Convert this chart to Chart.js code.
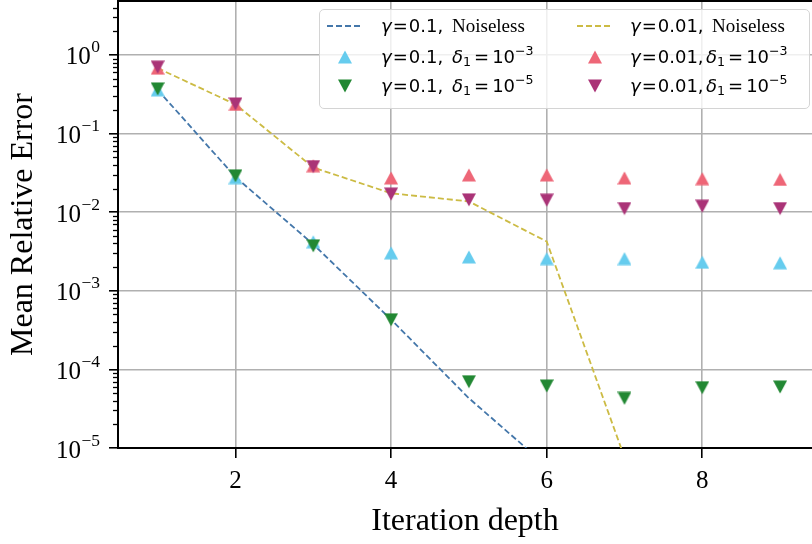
<!DOCTYPE html>
<html>
<head>
<meta charset="utf-8">
<script src="https://cdn.jsdelivr.net/npm/chart.js@4.4.1/dist/chart.umd.min.js"></script>
<style>
  body { margin: 0; background: #fff; overflow: hidden; }
  #wrap { position: relative; width: 812px; height: 544px; }
  #legend-box { position: absolute; left: 319px; top: 9px; width: 491px; height: 100px; box-sizing: border-box;
    border: 1.5px solid #d4d4d4; border-radius: 5px; background: rgba(255,255,255,0.8); }
  .hnd { position: absolute; width: 36px; height: 24px; display: flex; align-items: center; justify-content: center; }
  .part { position: absolute; height: 24px; line-height: 24px; white-space: nowrap; color: #000; }
  .m { font-family: "DejaVu Sans"; font-size: 18px; }
  .m i { font-style: italic; }
  .eq { margin: 0 1px; }
  .eq2 { margin: 0 3px; }
  .s { font-family: "Liberation Serif"; font-size: 19px; }
  sub, sup { font-size: 0.7em; line-height: 0; }
  sub { vertical-align: -0.25em; }
  sup { vertical-align: 0.6em; }
</style>
</head>
<body>
<div id="wrap">
  <canvas id="error-chart" width="812" height="544"></canvas>
  <div id="legend-box"></div>
</div>
<script>
// iteration depth on the x axis
const depth = [1, 2, 3, 4, 5, 6, 7, 8, 9];

// noiseless curves (dashed lines)
const g01Noiseless  = [0.36, 0.028, 0.0039, 0.00043, 0.000043, 0.0000059, null, null, null];
const g001Noiseless = [0.68, 0.235, 0.037, 0.0174, 0.0137, 0.00424, 0.0000076, null, null];

// noisy runs (markers)
const g01D3  = [0.36, 0.0275, 0.0042, 0.00304, 0.0027, 0.00257, 0.00257, 0.00231, 0.00227];
const g01D5  = [0.37, 0.029, 0.00373, 0.000428, 0.0000697, 0.0000614, 0.0000428, 0.0000585, 0.0000596];
const g001D3 = [0.68, 0.235, 0.039, 0.0273, 0.0298, 0.0298, 0.0273, 0.0267, 0.0261];
const g001D5 = [0.70, 0.238, 0.038, 0.017, 0.01435, 0.0142, 0.0111, 0.0119, 0.0111];

const xTicks = [2, 4, 6, 8];
const yTickExps = [-5, -4, -3, -2, -1, 0];

// legend text, split in the gamma part and the rest
const gammaLabels = ['0.1', '0.1', '0.1', '0.01', '0.01', '0.01'];
const restLabels = [
  '<span class="s">Noiseless</span>',
  '<span class="m"><i>δ</i><sub>1</sub><span class="eq2">=</span>10<sup>−3</sup></span>',
  '<span class="m"><i>δ</i><sub>1</sub><span class="eq2">=</span>10<sup>−5</sup></span>',
  '<span class="s">Noiseless</span>',
  '<span class="m"><i>δ</i><sub>1</sub><span class="eq2">=</span>10<sup>−3</sup></span>',
  '<span class="m"><i>δ</i><sub>1</sub><span class="eq2">=</span>10<sup>−5</sup></span>'
];

const colors = {
  blue: '#4477AA', yellow: '#CCBB44', cyan: '#66CCEE',
  green: '#228833', pink: '#EE6677', purple: '#AA3377'
};

const pts = arr => depth.map((x, i) => ({ x: x, y: arr[i] })).filter(p => p.y !== null);

// matplotlib style triangles (as wide as tall)
const tri = (color, down) => {
  const c = document.createElement('canvas');
  c.width = 14; c.height = 14;
  const g = c.getContext('2d');
  g.fillStyle = color;
  g.beginPath();
  if (down) { g.moveTo(0, 0.5); g.lineTo(14, 0.5); g.lineTo(7, 13.5); }
  else { g.moveTo(7, 0.5); g.lineTo(14, 13.5); g.lineTo(0, 13.5); }
  g.closePath();
  g.fill();
  return c;
};

const lineSet = (arr, color, order) => ({
  data: pts(arr), borderColor: color, borderWidth: 1.8, borderDash: [6, 3],
  pointRadius: 0, fill: false, tension: 0, order: order
});
const markSet = (arr, color, down, order) => ({
  data: pts(arr), showLine: false, pointStyle: tri(color, down), pointRadius: 7,
  borderColor: color, backgroundColor: color, order: order
});

const axisExtras = {
  id: 'axisExtras',
  afterDraw(chart) {
    const { ctx, chartArea: a, scales: { y } } = chart;
    ctx.save();
    ctx.strokeStyle = '#000';
    ctx.lineWidth = 2;
    ctx.beginPath(); ctx.moveTo(a.left - 1, a.top); ctx.lineTo(a.right, a.top); ctx.stroke();
    // minor log ticks
    ctx.lineWidth = 1.3;
    for (const e of yTickExps) {
      for (let m = 2; m <= 9; m++) {
        const v = m * Math.pow(10, e);
        if (v > y.max) continue;
        const py = Math.round(y.getPixelForValue(v)) + 0.5;
        ctx.beginPath(); ctx.moveTo(a.left - 5, py); ctx.lineTo(a.left, py); ctx.stroke();
      }
    }
    // 10^k labels
    ctx.fillStyle = '#000';
    ctx.textBaseline = 'alphabetic';
    for (const e of yTickExps) {
      const py = y.getPixelForValue(Math.pow(10, e));
      const sup = e === 0 ? '0' : '\u2212' + Math.abs(e);
      ctx.font = '17.5px "Liberation Serif"';
      const w = ctx.measureText(sup).width;
      const xs = a.left - 18 - w;
      ctx.textAlign = 'left';
      ctx.fillText(sup, xs, py - 2.5);
      ctx.font = '25px "Liberation Serif"';
      ctx.textAlign = 'right';
      ctx.fillText('10', xs - 0.5, py + 9.5);
    }
    ctx.restore();
  }
};

const gridOpts = { color: '#b0b0b0', lineWidth: 1.6, tickColor: '#000', tickWidth: 1.6, tickLength: 9 };

const chart = new Chart(document.getElementById('error-chart').getContext('2d'), {
  type: 'line',
  data: {
    datasets: [
      markSet(g001D5, colors.purple, true, 1),
      markSet(g001D3, colors.pink, false, 2),
      markSet(g01D5, colors.green, true, 3),
      markSet(g01D3, colors.cyan, false, 4),
      lineSet(g001Noiseless, colors.yellow, 5),
      lineSet(g01Noiseless, colors.blue, 6)
    ]
  },
  options: {
    responsive: false,
    animation: false,
    layout: { autoPadding: false, padding: { top: 1, right: 0, left: 0, bottom: 0 } },
    plugins: { legend: { display: false }, tooltip: { enabled: false } },
    scales: {
      x: {
        type: 'linear', min: 0.49, max: 9.41,
        afterBuildTicks: s => { s.ticks = xTicks.map(v => ({ value: v })); },
        afterFit: s => { s.height = 96; },
        grid: Object.assign({}, gridOpts, { tickLength: 10 }),
        border: { color: '#000', width: 2 },
        ticks: { color: '#000', font: { family: 'Liberation Serif', size: 25 }, padding: 8, maxRotation: 0,
          callback: v => String(v) },
        title: { display: true, text: 'Iteration depth', color: '#000',
          font: { family: 'Liberation Serif', size: 32 }, padding: { top: 0, bottom: 3 } }
      },
      y: {
        type: 'logarithmic', min: 1e-5, max: 4.86,
        afterBuildTicks: s => { s.ticks = yTickExps.map(e => ({ value: Math.pow(10, e) })); },
        afterFit: s => { s.width = 118; },
        grid: gridOpts,
        border: { color: '#000', width: 2 },
        ticks: { display: false },
        title: { display: true, text: 'Mean Relative Error', color: '#000',
          font: { family: 'Liberation Serif', size: 32 }, padding: { top: 4, bottom: 0 } }
      }
    }
  },
  plugins: [axisExtras]
});

// legend: two columns, filled column by column
const legendHandles = [
  { type: 'line', color: colors.blue }, { type: 'up', color: colors.cyan }, { type: 'down', color: colors.green },
  { type: 'line', color: colors.yellow }, { type: 'up', color: colors.pink }, { type: 'down', color: colors.purple }
];
const wrap = document.getElementById('wrap');
const colX = [327, 577];
const textX = [381, 630];
const restOffset = [[71, 71, 71], [82, 76, 76]];
const rowY = [26, 57, 86];
const addDiv = (cls, left, top, html) => {
  const d = document.createElement('div');
  d.className = cls;
  d.style.left = left + 'px';
  d.style.top = top + 'px';
  if (html) d.innerHTML = html;
  wrap.appendChild(d);
  return d;
};
restLabels.forEach((rest, i) => {
  const col = Math.floor(i / 3), row = i % 3;
  const h = legendHandles[i];
  const top = rowY[row] - 12;
  const hd = addDiv('hnd', colX[col], top);
  if (h.type === 'line') {
    hd.innerHTML = '<svg width="36" height="24"><line x1="0" y1="12" x2="36" y2="12" stroke="' + h.color +
      '" stroke-width="1.8" stroke-dasharray="6 3"/></svg>';
  } else {
    hd.appendChild(tri(h.color, h.type === 'down'));
  }
  addDiv('part m', textX[col], top, '<i>γ</i><span class="eq">=</span>' + gammaLabels[i] + ',');
  addDiv('part', textX[col] + restOffset[col][row], top, rest);
});
</script>
</body>
</html>
